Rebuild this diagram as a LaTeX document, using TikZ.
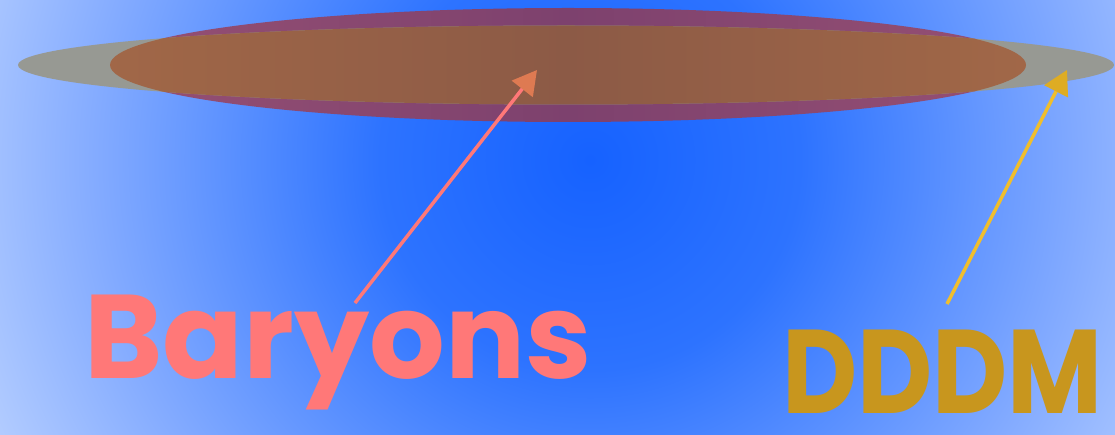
\documentclass[tikz,border=0pt]{standalone}
\usepackage{fontspec}
\usetikzlibrary{arrows.meta}
\newfontfamily\handfont{Poppins}
\definecolor{bgin}{RGB}{22,98,255}
\definecolor{bgmid}{RGB}{45,115,255}
\definecolor{bgmid2}{RGB}{130,170,255}
\definecolor{bgout}{RGB}{180,205,255}
\definecolor{bgout2}{RGB}{186,209,255}
\pgfdeclareradialshading{bgrad}{\pgfpoint{0bp}{0bp}}{color(0bp)=(bgin); color(7.5bp)=(bgmid); color(17.5bp)=(bgmid2); color(23.5bp)=(bgout); color(25bp)=(bgout2); color(50bp)=(bgout2)}
\definecolor{grayell}{RGB}{151,153,147}
\definecolor{purpleL}{RGB}{150,80,115}
\definecolor{purpleM}{RGB}{125,65,110}
\definecolor{orangeL}{RGB}{165,106,72}
\definecolor{orangeM}{RGB}{140,90,70}
\definecolor{barcol}{RGB}{255,120,120}
\definecolor{barhead}{RGB}{222,122,82}
\definecolor{dmcol}{RGB}{200,150,30}
\definecolor{dmline}{RGB}{240,190,45}
\definecolor{dmhead}{RGB}{222,172,35}
\tikzset{
  label text/.style={anchor=base west, inner sep=0pt, font=\handfont\bfseries\fontsize{119}{119}\selectfont},
  barline/.style={draw=barcol, line width=3.5pt, -{Triangle[length=24pt,width=26pt,color=barhead]}},
  dmarrow/.style={draw=dmline, line width=3.5pt, -{Triangle[length=24pt,width=26pt,color=dmhead]}},
}
\begin{document}
\begin{tikzpicture}[x=1pt,y=-1pt]
\useasboundingbox (0,0) rectangle (1115,435);
\clip (0,0) rectangle (1115,435);
% background
\shade[shading=bgrad] (-110,-540) rectangle (1290,860);
% disks
\coordinate (dmc) at (566,65);
\coordinate (barc) at (568,65);
\shade[left color=purpleL, right color=purpleL, middle color=purpleM] (barc) ellipse [x radius=458pt, y radius=57pt];
\fill[grayell] (dmc) ellipse [x radius=548pt, y radius=39.5pt];
\begin{scope}
  \clip (barc) ellipse [x radius=458pt, y radius=57pt];
  \shade[left color=orangeL, right color=orangeL, middle color=orangeM] (dmc) ellipse [x radius=548pt, y radius=39.5pt];
\end{scope}
% labels
\node[label text, text=barcol] (baryons) at (84,378) {Baryons};
\node[label text, text=dmcol, xscale=0.87, text depth=0pt] (dddm) at (782,413) {DDDM};
% arrows
\coordinate (btail) at (355,303);
\coordinate (bhead) at (537,70);
\coordinate (dtail) at (947,304);
\coordinate (dhead) at (1067,70);
\draw[barline] (btail) -- (bhead);
\draw[dmarrow] (dtail) -- (dhead);
\end{tikzpicture}
\end{document}
